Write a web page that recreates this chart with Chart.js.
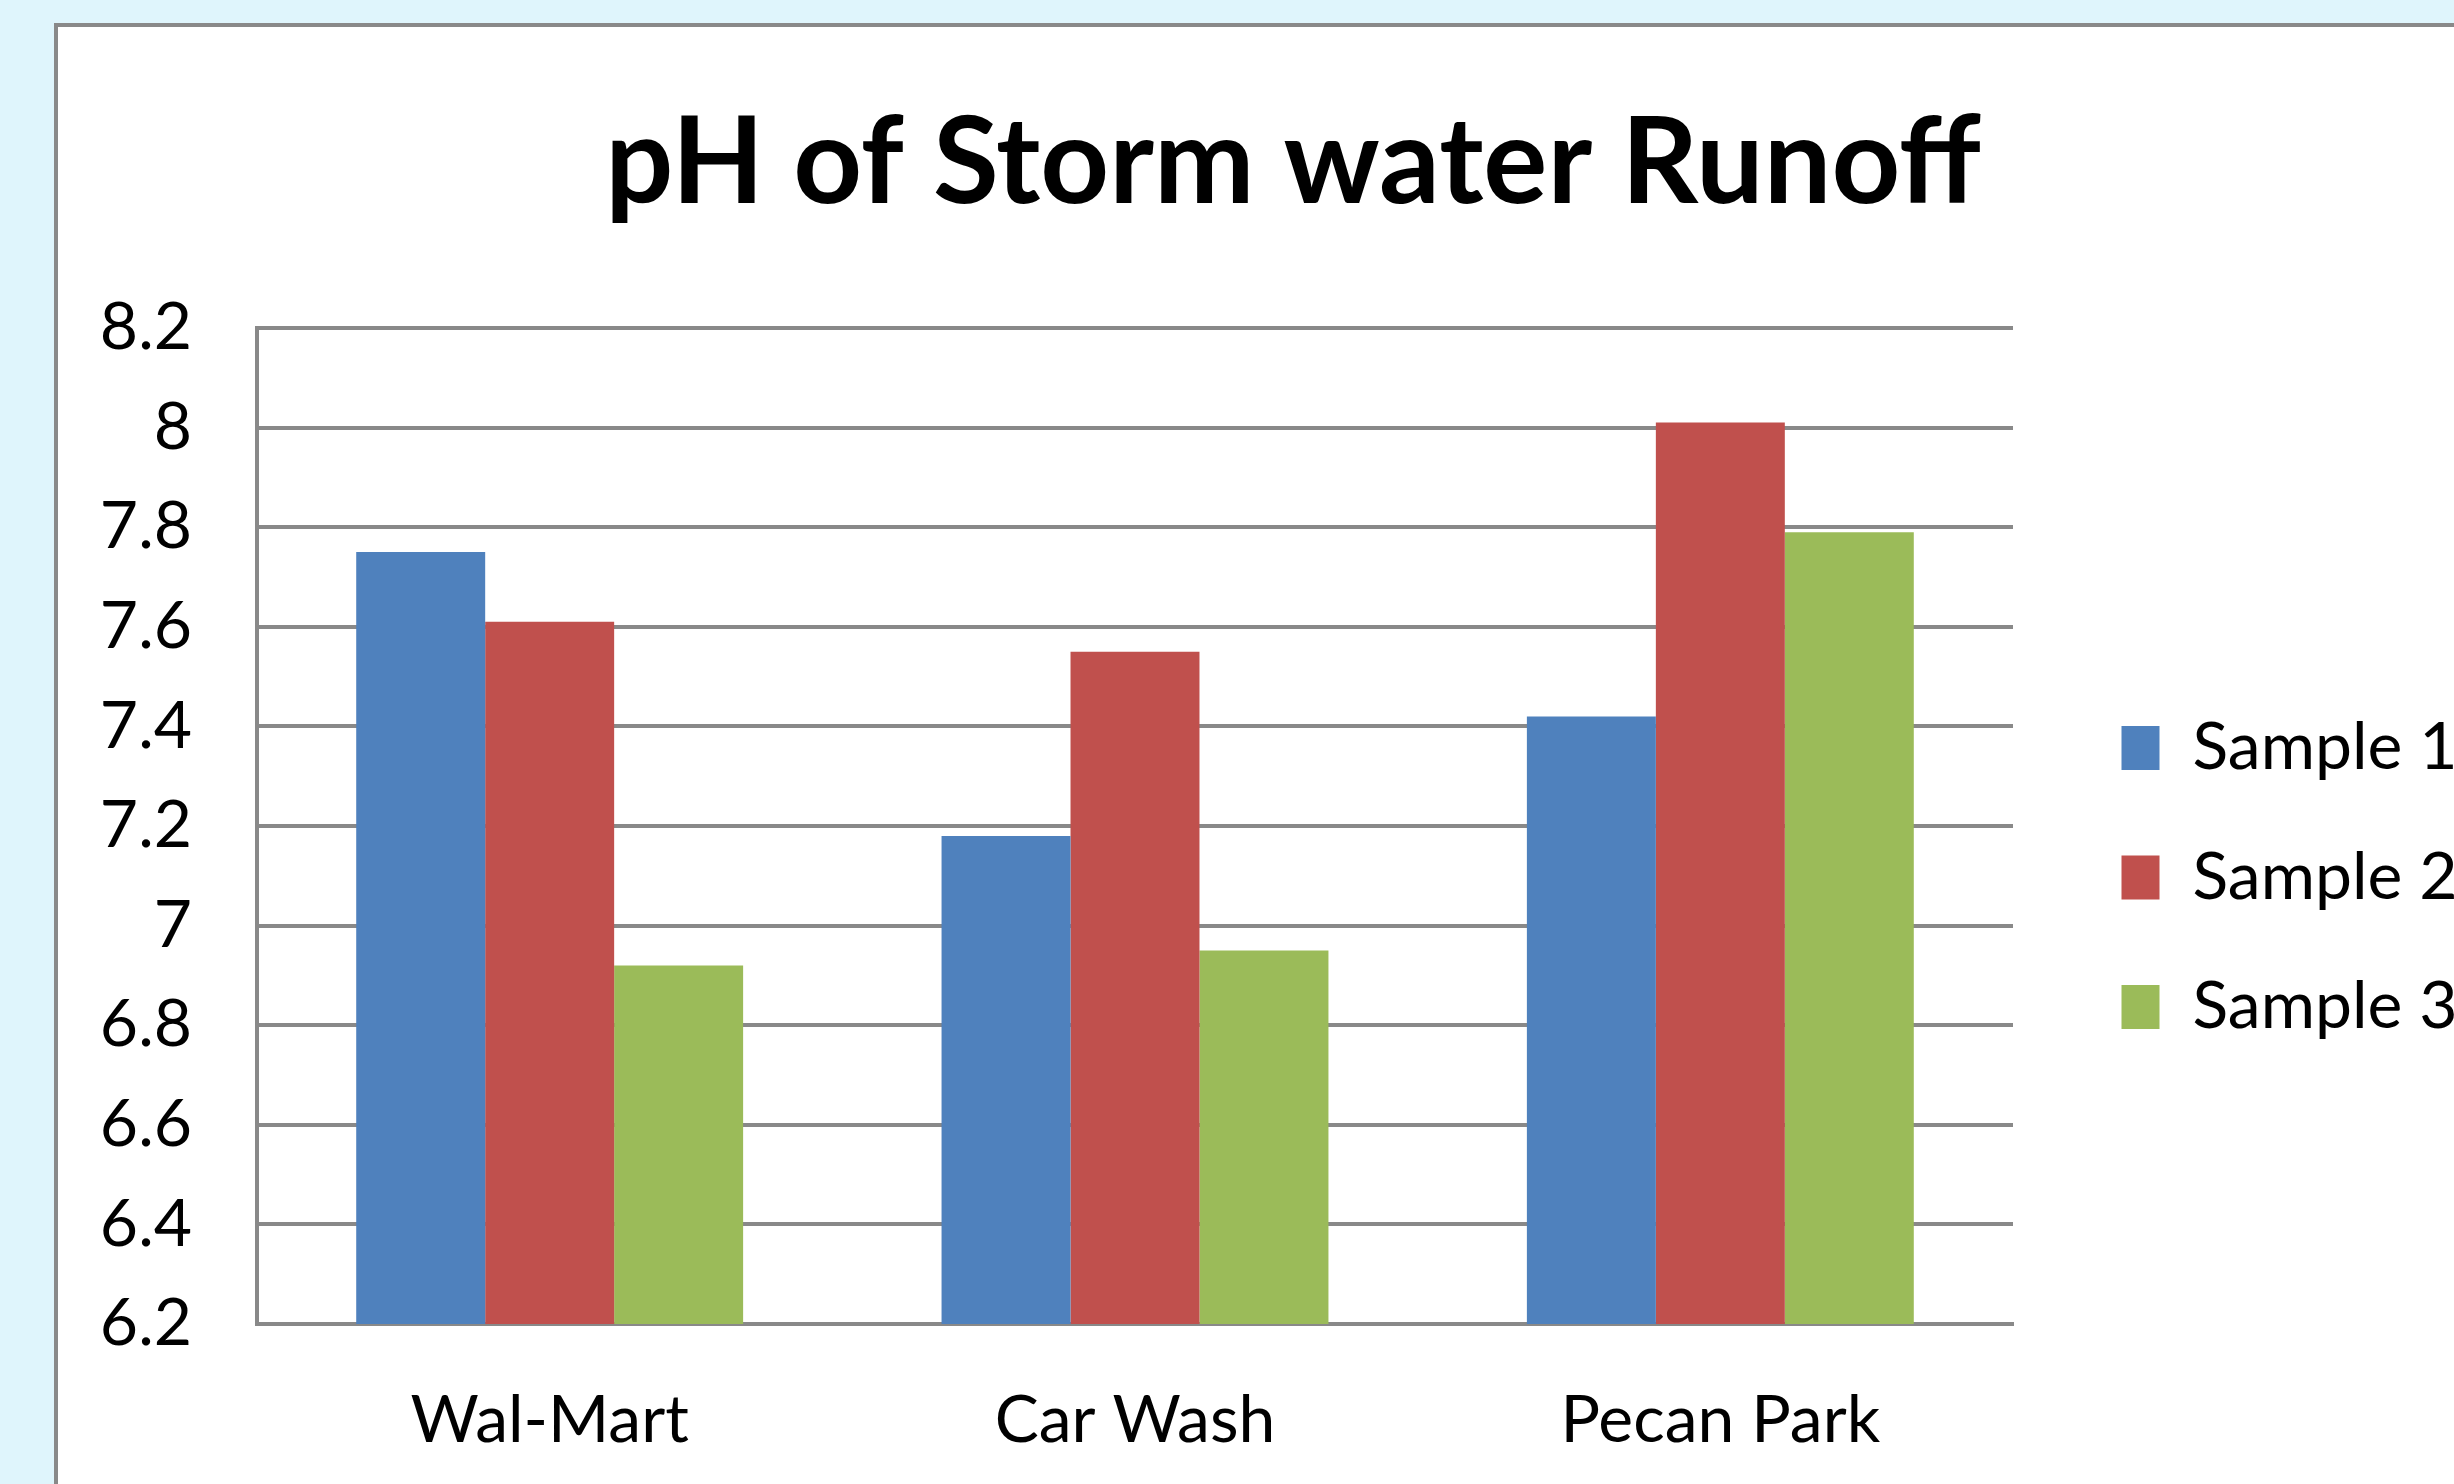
<!DOCTYPE html>
<html>
<head>
<meta charset="utf-8">
<title>pH of Storm water Runoff</title>
<script src="https://cdn.jsdelivr.net/npm/chart.js@4.4.1/dist/chart.umd.min.js"></script>
<style>
  html, body { margin: 0; padding: 0; width: 2454px; height: 1484px; overflow: hidden; background: #dff5fc; }
  #frame { position: absolute; left: 54px; top: 23px; width: 2700px; height: 1800px; background: #fff; border: 4px solid #898989; }
  #chart { position: absolute; left: 0; top: 0; }
</style>
</head>
<body>
<div id="frame"></div>
<canvas id="chart" width="2600" height="1755"></canvas>
<script>
// ===================================
// DATA
// ===================================
const sites = ["Wal-Mart", "Car Wash", "Pecan Park"];
const seriesNames = ["Sample 1", "Sample 2", "Sample 3"];
const sample1 = [7.75, 7.18, 7.42];
const sample2 = [7.61, 7.55, 8.01];
const sample3 = [6.92, 6.95, 7.79];
const seriesColors = ["#4f81bd", "#c0504d", "#9bbb59"];

const yMin = 6.2;
const yMax = 8.2;
const yStep = 0.2;

// ===================================
// LAYOUT (page pixels)
// ===================================
const CANVAS_W = 2600;
const CANVAS_H = 1755;     // chart runs past the page edges, like the reference crop
const PLOT_LEFT = 257;
const PLOT_RIGHT = 2013;
const PLOT_BOTTOM = 1324;
const TITLE_CENTER = 1293;
const LEGEND_SHIFT = 45;   // legend sits a bit further from the plot than Chart.js puts it
const FONT = "Lato";
const GRID = "#898989";

// title box spans 0 .. canvas minus padding-right, so centre it that way
const titleRight = 2 * TITLE_CENTER;
const padRight = CANVAS_W - titleRight;
let outerGap = 60;         // room right of the legend, fixed after first layout

Chart.defaults.font.family = FONT;
Chart.defaults.color = "#000";

const seriesData = [sample1, sample2, sample3];

const nudgeLegend = {
  id: "nudgeLegend",
  afterLayout(c) {
    c.legend.left += LEGEND_SHIFT;
    c.legend.right += LEGEND_SHIFT;
  }
};

const chart = new Chart(document.getElementById("chart"), {
  type: "bar",
  data: {
    labels: sites,
    datasets: seriesNames.map((name, i) => ({
      label: name,
      data: seriesData[i],
      backgroundColor: seriesColors[i],
      borderWidth: 0,
      categoryPercentage: 0.661,
      barPercentage: 1.0,
      yAxisID: "y"
    }))
  },
  options: {
    responsive: false,
    animation: false,
    layout: { padding: { left: 0, right: padRight, top: 0, bottom: 0 } },
    plugins: {
      tooltip: { enabled: false },
      title: {
        display: true,
        text: "pH of Storm water Runoff",
        font: { size: 120, weight: "bold" },
        padding: { top: 92.5, bottom: 91.5 }
      },
      legend: {
        position: "right",
        labels: {
          boxWidth: 38,
          boxHeight: 44,
          padding: 63.5,
          font: { size: 66 }
        }
      }
    },
    scales: {
      x: {
        grid: { display: false, drawTicks: false },
        border: { display: true, color: GRID, width: 4 },
        ticks: { padding: 57, font: { size: 66 } },
        afterFit: s => { s.height = CANVAS_H - PLOT_BOTTOM; }
      },
      y: {
        min: yMin,
        max: yMax,
        grid: { color: GRID, lineWidth: 4, drawTicks: false },
        border: { color: GRID, width: 4 },
        ticks: {
          stepSize: yStep,
          padding: 65,
          font: { size: 66 },
          callback: v => +v.toFixed(1)
        },
        afterFit: s => { s.width = PLOT_LEFT; }
      },
      outer: {
        position: "right",
        weight: 2000,
        display: true,
        grid: { display: false },
        border: { display: false },
        ticks: { display: false },
        afterFit: s => { s.width = outerGap; }
      }
    }
  },
  plugins: [nudgeLegend]
});

// now the legend width is known: put the plot's right edge where it belongs
outerGap = Math.max(0, titleRight - PLOT_RIGHT - chart.legend.width);
chart.update();
</script>
</body>
</html>
